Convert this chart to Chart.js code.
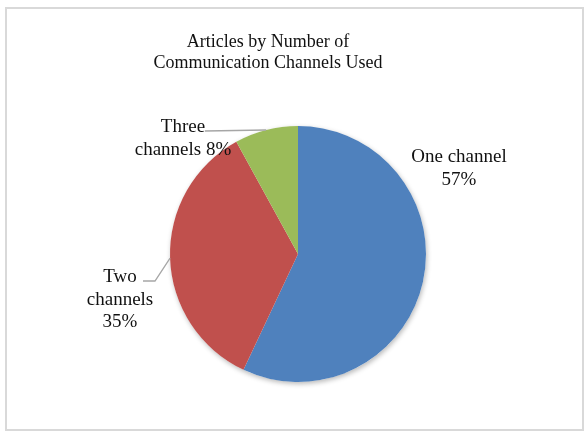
<!DOCTYPE html>
<html>
<head>
<meta charset="utf-8">
<title>Articles by Number of Communication Channels Used</title>
<script src="https://cdn.jsdelivr.net/npm/chart.js@4/dist/chart.umd.min.js"></script>
<style>
  html, body { margin: 0; padding: 0; background: #fff; }
  canvas { display: block; }
</style>
</head>
<body>
<canvas id="pie_chart" width="585" height="432"></canvas>
<script>
// ---------------- data ----------------
const categories = ['One channel', 'Two channels', 'Three channels'];
const shares = [57, 35, 8];
const sliceColors = ['#4f81bd', '#c0504d', '#9bbb59'];
const titleLines = ['Articles by Number of', 'Communication Channels Used'];

// label text for each slice, split the way it wraps
const labelLines = [
    ['One channel', shares[0] + '%'],
    ['Two', 'channels', shares[1] + '%'],
    ['Three', 'channels ' + shares[2] + '%']
];

// where each label sits, relative to the pie centre (first baseline)
const labelPlacement = [
    { dx: 161, dy: -92, leader: null },
    { dx: -178, dy: 28, leader: [[-155, 27], [-143, 27]] },
    { dx: -115, dy: -122, leader: [[-93, -123]] }
];

const serif = '"Liberation Serif", "Times New Roman", serif';

// frame + title
const frame = {
    id: 'frame',
    beforeDraw(chart) {
        const c = chart.ctx;
        c.save();
        c.fillStyle = '#fff';
        c.fillRect(0, 0, chart.width, chart.height);
        c.strokeStyle = '#d9d9d9';
        c.lineWidth = 2;
        c.strokeRect(6, 8, 577, 422);
        c.fillStyle = '#111';
        c.font = '18px ' + serif;
        c.textAlign = 'center';
        c.textBaseline = 'alphabetic';
        titleLines.forEach((t, i) => c.fillText(t, 268, 47 + i * 21));
        c.restore();
    }
};

// soft shadow under the pie
const pieShadow = {
    id: 'pieShadow',
    beforeDatasetsDraw(chart) {
        const arc = chart.getDatasetMeta(0).data[0];
        if (!arc) return;
        const c = chart.ctx;
        c.save();
        c.shadowColor = 'rgba(0,0,0,0.28)';
        c.shadowBlur = 5;
        c.shadowOffsetX = 1;
        c.shadowOffsetY = 2;
        c.fillStyle = '#fff';
        c.beginPath();
        c.arc(arc.x, arc.y, arc.outerRadius, 0, Math.PI * 2);
        c.fill();
        c.restore();
    }
};

// slice labels with leader lines
const sliceLabels = {
    id: 'sliceLabels',
    afterDatasetsDraw(chart) {
        const c = chart.ctx;
        const arcs = chart.getDatasetMeta(0).data;
        c.save();
        arcs.forEach((arc, i) => {
            const p = labelPlacement[i];
            const mid = (arc.startAngle + arc.endAngle) / 2;
            if (p.leader) {
                c.strokeStyle = '#a6a6a6';
                c.lineWidth = 1.3;
                c.beginPath();
                p.leader.forEach(([lx, ly], k) => {
                    if (k === 0) c.moveTo(arc.x + lx, arc.y + ly);
                    else c.lineTo(arc.x + lx, arc.y + ly);
                });
                c.lineTo(arc.x + Math.cos(mid) * arc.outerRadius, arc.y + Math.sin(mid) * arc.outerRadius);
                c.stroke();
            }
            c.fillStyle = '#111';
            c.font = '19px ' + serif;
            c.textAlign = 'center';
            c.textBaseline = 'alphabetic';
            labelLines[i].forEach((t, k) => c.fillText(t, arc.x + p.dx, arc.y + p.dy + k * 22.5));
        });
        c.restore();
    }
};

new Chart(document.getElementById('pie_chart'), {
    type: 'pie',
    data: {
        labels: categories,
        datasets: [{
            data: shares,
            backgroundColor: sliceColors,
            borderWidth: 0,
            hoverOffset: 0
        }]
    },
    options: {
        responsive: false,
        animation: false,
        radius: 128,
        layout: { padding: { left: 11, right: 0, top: 76, bottom: 0 } },
        plugins: {
            legend: { display: false },
            title: { display: false },
            tooltip: { enabled: false }
        }
    },
    plugins: [frame, pieShadow, sliceLabels]
});
</script>
</body>
</html>
